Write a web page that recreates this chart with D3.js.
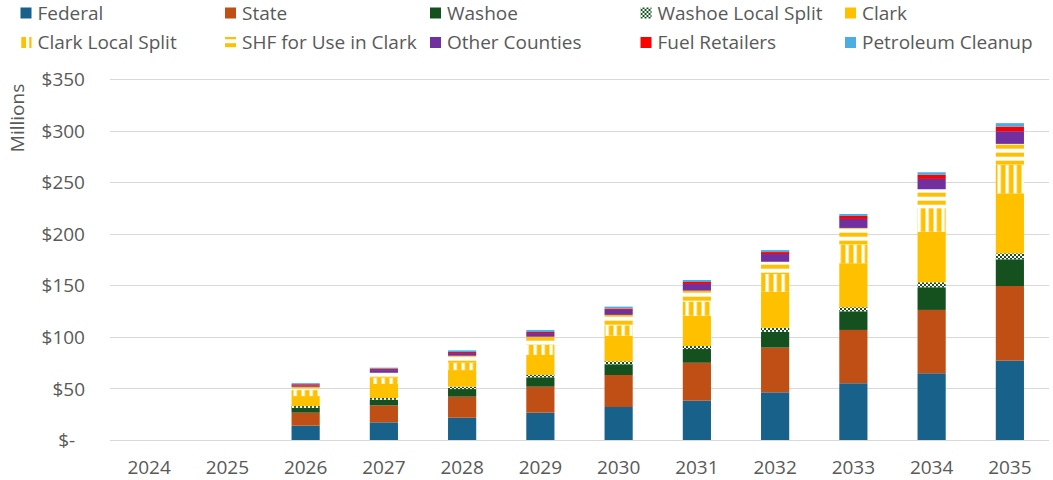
<!DOCTYPE html>
<html>
<head>
<meta charset="utf-8">
<script src="https://cdn.jsdelivr.net/npm/d3@7"></script>
<style>
  html, body { margin: 0; padding: 0; background: #fff; }
  svg { display: block; }
  text { font-family: "Open Sans", "Liberation Sans", sans-serif; fill: #595959; }
</style>
</head>
<body>
<svg id="chart" width="1053" height="480"></svg>
<script>
const years = ["2024","2025","2026","2027","2028","2029","2030","2031","2032","2033","2034","2035"];
const seriesNames = ["Federal","State","Washoe","Washoe Local Split","Clark","Clark Local Split","SHF for Use in Clark","Other Counties","Fuel Retailers","Petroleum Cleanup"];
const federal     = [0,0,13.9,17.1,21.6,26.5,32.0,38.1,46.2,55.0,64.7,76.9];
const state       = [0,0,12.6,16.5,20.4,25.2,31.0,36.8,43.4,51.7,61.4,72.4];
const washoe      = [0,0,4.8,5.5,7.4,9.1,10.4,13.3,15.3,18.1,22.0,25.9];
const washoeLocal = [0,0,1.6,1.6,2.2,2.2,2.9,2.9,3.9,3.9,4.8,5.8];
const clark       = [0,0,9.7,13.6,16.2,19.4,24.9,29.4,34.9,42.7,49.1,58.2];
const clarkLocal  = [0,0,5.8,6.1,7.1,9.7,10.0,13.8,17.2,18.0,22.7,27.5];
const shf         = [0,0,3.2,4.8,6.8,8.0,10.1,10.5,11.9,16.2,18.4,20.4];
const otherCounties = [0,0,1.5,2.6,2.6,3.6,4.8,6.5,7.5,8.7,10.0,12.3];
const fuelRetailers = [0,0,1.0,1.0,1.0,1.0,1.3,1.9,1.9,2.9,3.9,4.5];
const petroleum   = [0,0,1.0,1.3,1.6,1.9,1.9,1.9,1.9,1.9,2.6,3.3];
const yTicks = [0,50,100,150,200,250,300,350];

const seriesValues = [federal,state,washoe,washoeLocal,clark,clarkLocal,shf,otherCounties,fuelRetailers,petroleum];
const fills = ["#17618a","#c04f15","#15501f","url(#pWashoeLocal)","#ffc000","url(#pClarkLocal)","url(#pShf)","#7030a0","#ff0000","#4aaee0"];

const table = years.map((y,i) => {
  const row = {year: y};
  seriesNames.forEach((s,k) => row[s] = seriesValues[k][i]);
  return row;
});

const svg = d3.select("#chart");
const defs = svg.append("defs");
const p1 = defs.append("pattern").attr("id","pWashoeLocal").attr("patternUnits","userSpaceOnUse").attr("width",4).attr("height",4);
p1.append("rect").attr("width",4).attr("height",4).attr("fill","#ffffff");
p1.append("rect").attr("x",0).attr("y",0).attr("width",2).attr("height",2).attr("fill","#15501f");
p1.append("rect").attr("x",2).attr("y",2).attr("width",2).attr("height",2).attr("fill","#15501f");
const p2 = defs.append("pattern").attr("id","pClarkLocal").attr("patternUnits","userSpaceOnUse").attr("x",5.5).attr("width",8).attr("height",8);
p2.append("rect").attr("width",8).attr("height",8).attr("fill","#ffc000");
p2.append("rect").attr("x",0).attr("width",3.3).attr("height",8).attr("fill","#ffffff");
const p3 = defs.append("pattern").attr("id","pShf").attr("patternUnits","userSpaceOnUse").attr("y",0.7).attr("width",8).attr("height",8);
p3.append("rect").attr("width",8).attr("height",8).attr("fill","#ffffff");
p3.append("rect").attr("y",0).attr("width",8).attr("height",4).attr("fill","#ffc000");

const x = d3.scaleBand().domain(years).range([110,1049]).paddingInner(0.64).paddingOuter(0.32);
const y = d3.scaleLinear().domain([0,350]).range([440,79]);

svg.append("g").selectAll("line").data(yTicks).join("line")
  .attr("x1",110).attr("x2",1049)
  .attr("y1",d=>Math.round(y(d))+0.5).attr("y2",d=>Math.round(y(d))+0.5)
  .attr("stroke","#d9d9d9").attr("stroke-width",1);

const yAxis = d3.axisLeft(y).tickValues(yTicks).tickSize(0).tickPadding(0)
  .tickFormat(d => d === 0 ? "$-\u00A0\u00A0" : "$" + d);
const gy = svg.append("g").attr("transform","translate(85,0)").call(yAxis);
gy.select(".domain").remove();
gy.selectAll("text").style("font-size","19px").attr("fill","#595959").attr("dy","0.35em");

const xAxis = d3.axisBottom(x).tickSize(0).tickPadding(0);
const gx = svg.append("g").attr("transform","translate(0,460)").call(xAxis);
gx.select(".domain").remove();
gx.selectAll("text").style("font-size","19px").attr("fill","#595959").attr("dy","0.71em");

svg.append("text").attr("transform","translate(24,118) rotate(-90)")
  .attr("text-anchor","middle").style("font-size","19px").text("Millions");

const stack = d3.stack().keys(seriesNames);
const layers = stack(table);
svg.append("g").selectAll("g").data(layers).join("g")
  .attr("fill",(d,i)=>fills[i])
  .selectAll("rect").data(d=>d).join("rect")
  .attr("x",d=>x(d.data.year))
  .attr("width",x.bandwidth())
  .attr("y",d=>y(d[1]))
  .attr("height",d=>Math.max(0,y(d[0])-y(d[1])));

const legendPos = [[20.5,13],[225,13],[430,13],[640.5,13],[845,13],[20.5,42.5],[225,42.5],[430,42.5],[640.5,42.5],[845,42.5]];
const lgOrder = ["Federal","State","Washoe","Washoe Local Split","Clark","Clark Local Split","SHF for Use in Clark","Other Counties","Fuel Retailers","Petroleum Cleanup"];
const lg = svg.append("g").selectAll("g").data(lgOrder).join("g")
  .attr("transform",(d,i)=>`translate(${legendPos[i][0]},${legendPos[i][1]})`);
lg.append("rect").attr("x",0).attr("y",-5.5).attr("width",11).attr("height",11)
  .attr("fill",d=>fills[seriesNames.indexOf(d)]);
lg.append("text").attr("x",17).attr("y",0).attr("dy","0.35em").style("font-size","19px").text(d=>d);
</script>
</body>
</html>
